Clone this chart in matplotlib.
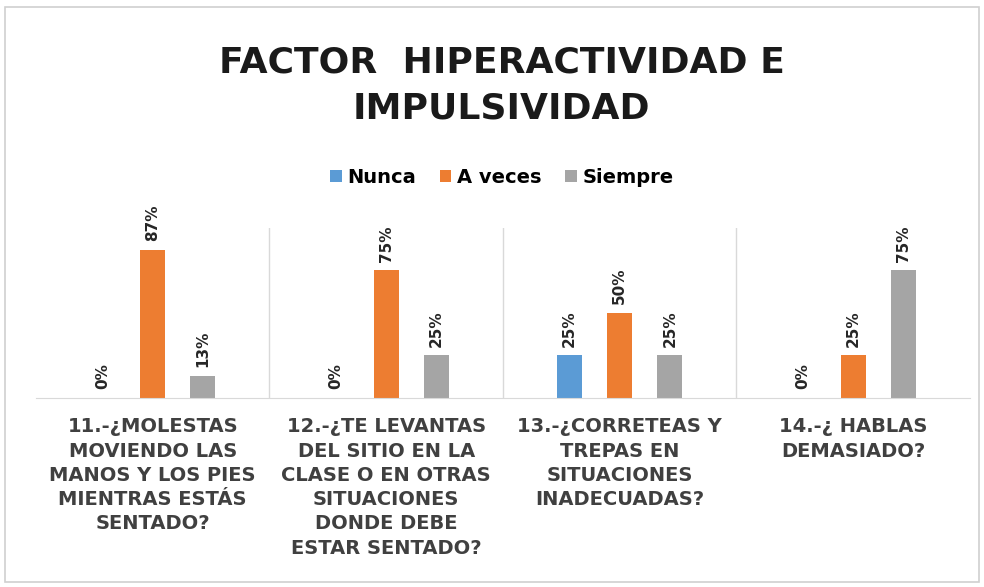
import numpy as np
import matplotlib.pyplot as plt
from matplotlib.patches import Rectangle

categories = [
    "11.-¿MOLESTAS\nMOVIENDO LAS\nMANOS Y LOS PIES\nMIENTRAS ESTÁS\nSENTADO?",
    "12.-¿TE LEVANTAS\nDEL SITIO EN LA\nCLASE O EN OTRAS\nSITUACIONES\nDONDE DEBE\nESTAR SENTADO?",
    "13.-¿CORRETEAS Y\nTREPAS EN\nSITUACIONES\nINADECUADAS?",
    "14.-¿ HABLAS\nDEMASIADO?",
]
series_names = ["Nunca", "A veces", "Siempre"]
nunca = [0, 0, 25, 0]
a_veces = [87, 75, 50, 25]
siempre = [13, 25, 25, 75]
colors = ["#5B9BD5", "#ED7D31", "#A5A5A5"]

fig = plt.figure(figsize=(9.84, 5.87), dpi=100)
fig.patches.append(Rectangle((0.005, 0.008), 0.99, 0.98, transform=fig.transFigure,
                             fill=False, edgecolor="#D0D0D0", linewidth=1.2))

ax = fig.add_axes([0.0366, 0.322, 0.949, 0.29])

x = np.arange(len(categories))
width = 0.107
offsets = [-0.215, 0, 0.215]

for vals, name, color, off in zip([nunca, a_veces, siempre], series_names, colors, offsets):
    bars = ax.bar(x + off, vals, width, color=color, label=name)
    for b, v in zip(bars, vals):
        ax.text(b.get_x() + b.get_width() / 2, v + 5, f"{v}%", rotation=90,
                ha="center", va="bottom", fontsize=11, fontweight="bold", color="#262626")

ax.set_xlim(-0.5, len(categories) - 0.5)
ax.set_ylim(0, 100)
for sep in np.arange(0.5, len(categories) - 0.5, 1):
    ax.axvline(sep, color="#D9D9D9", linewidth=1)

for side in ["top", "right", "left"]:
    ax.spines[side].set_visible(False)
ax.spines["bottom"].set_color("#D9D9D9")
ax.set_yticks([])
ax.set_xticks(x)
ax.set_xticklabels(categories, fontsize=14, fontweight="bold", color="#404040",
                   linespacing=1.35, va="top")
ax.tick_params(axis="x", length=0, pad=14)

fig.text(0.51, 0.855, "FACTOR  HIPERACTIVIDAD E\nIMPULSIVIDAD", ha="center", va="center",
         fontsize=26, fontweight="bold", color="#1a1a1a", linespacing=1.45)

fig.legend(loc="center", bbox_to_anchor=(0.51, 0.698), ncol=3, frameon=False,
           prop={"size": 14, "weight": "bold"}, handlelength=0.6, handleheight=0.6,
           handletextpad=0.3, columnspacing=1.2)

fig.savefig("out.png", dpi=100)
